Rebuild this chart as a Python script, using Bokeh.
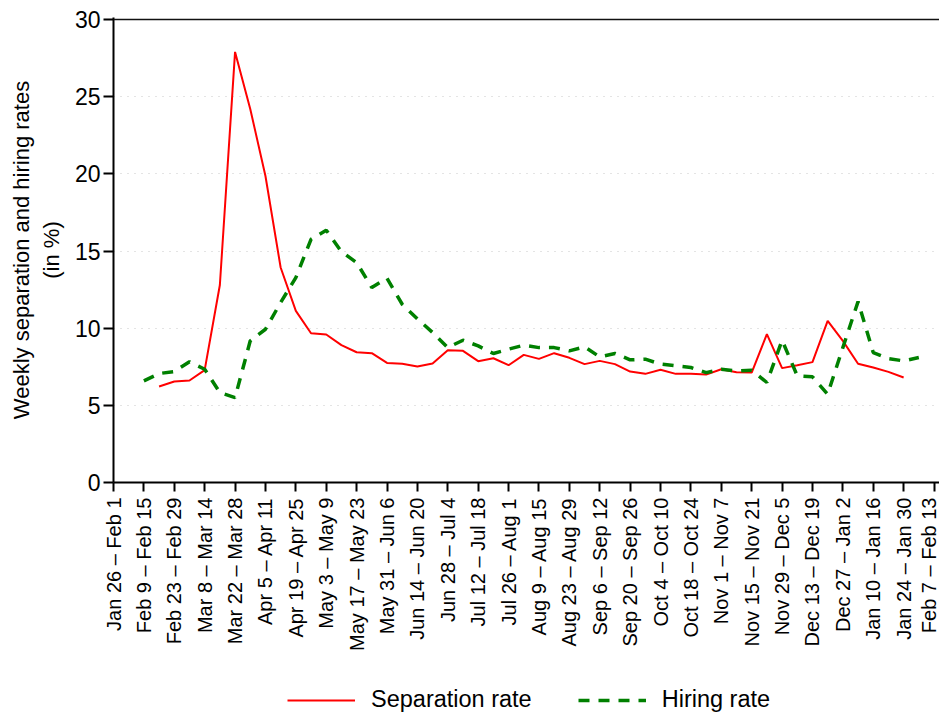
import math

from bokeh.embed import file_html
from bokeh.layouts import column
from bokeh.models import FixedTicker, Legend, LegendItem, Range1d, Span
from bokeh.plotting import figure
from bokeh.resources import INLINE

# Tick labels: one every two weeks, starting with the week of Jan 26
tick_labels = [
    "Jan 26 – Feb 1", "Feb 9 – Feb 15", "Feb 23 – Feb 29", "Mar 8 – Mar 14",
    "Mar 22 – Mar 28", "Apr 5 – Apr 11", "Apr 19 – Apr 25", "May 3 – May 9",
    "May 17 – May 23", "May 31 – Jun 6", "Jun 14 – Jun 20", "Jun 28 – Jul 4",
    "Jul 12 – Jul 18", "Jul 26 – Aug 1", "Aug 9 – Aug 15", "Aug 23 – Aug 29",
    "Sep 6 – Sep 12", "Sep 20 – Sep 26", "Oct 4 – Oct 10", "Oct 18 – Oct 24",
    "Nov 1 – Nov 7", "Nov 15 – Nov 21", "Nov 29 – Dec 5", "Dec 13 – Dec 19",
    "Dec 27 – Jan 2", "Jan 10 – Jan 16", "Jan 24 – Jan 30", "Feb 7 – Feb 13",
]
tick_weeks = [2 * i for i in range(len(tick_labels))]

# Weekly separation rate (%), first value is week 3 (Feb 16 – Feb 22)
separation_start = 3
separation_rate = [
    6.22, 6.54, 6.61, 7.28, 12.8, 27.9, 24.2, 19.86, 13.93, 11.12,
    9.67, 9.59, 8.9, 8.44, 8.38, 7.75, 7.69, 7.52, 7.71, 8.57,
    8.53, 7.86, 8.05, 7.6, 8.27, 8.01, 8.38, 8.08, 7.67, 7.88,
    7.67, 7.19, 7.04, 7.3, 7.04, 7.04, 6.99, 7.34, 7.15, 7.12,
    9.61, 7.41, 7.6, 7.8, 10.47, 9.18, 7.69, 7.45, 7.17, 6.8,
]

# Weekly hiring rate (%), first value is week 2 (Feb 9 – Feb 15)
hiring_start = 2
hiring_rate = [
    6.59, 7.06, 7.19, 7.82, 7.34, 5.83, 5.5, 9.18, 9.93, 11.66,
    13.28, 15.76, 16.35, 14.96, 14.25, 12.63, 13.24, 11.55, 10.6, 9.72,
    8.74, 9.22, 8.85, 8.36, 8.64, 8.9, 8.74, 8.74, 8.53, 8.79,
    8.14, 8.36, 7.95, 7.99, 7.67, 7.56, 7.45, 7.12, 7.34, 7.23,
    7.28, 6.48, 9.22, 6.91, 6.85, 5.72, 8.74, 11.72, 8.42, 8.03,
    7.88, 8.1,
]

y_ticks = [0, 5, 10, 15, 20, 25, 30]

FONT = "Liberation Sans"
SEP_STYLE = dict(line_color="#ff0000", line_width=2)
HIR_STYLE = dict(line_color="#008000", line_width=3.5, line_dash="11 9")

sep_x = [separation_start + i for i in range(len(separation_rate))]
hir_x = [hiring_start + i for i in range(len(hiring_rate))]

# main chart; a little headroom above 30 keeps the top rule unclipped
p = figure(
    frame_width=826, frame_height=465,
    output_backend="svg", toolbar_location=None,
    x_range=Range1d(0, 54.36), y_range=Range1d(0, 30.13),
    min_border_left=113, min_border_right=0,
    min_border_top=17, min_border_bottom=198,
)
p.outline_line_color = None
p.background_fill_color = "white"
p.border_fill_color = "white"

p.line(sep_x, separation_rate, **SEP_STYLE)
p.line(hir_x, hiring_rate, **HIR_STYLE)

# top rule at 30
p.add_layout(Span(location=30, dimension="width", line_color="#111111",
                  line_width=1.6))

# x axis
p.xaxis.ticker = FixedTicker(ticks=tick_weeks)
p.xaxis.major_label_overrides = {w: lab for w, lab in zip(tick_weeks, tick_labels)}
p.xaxis.major_label_orientation = math.pi / 2
p.xaxis.major_label_text_font = FONT
p.xaxis.major_label_text_font_size = "20px"
p.xaxis.major_label_text_color = "black"
p.xaxis.major_label_standoff = 6
p.xaxis.minor_tick_line_color = None
p.xaxis.major_tick_in = 0
p.xaxis.major_tick_out = 9
p.xaxis.major_tick_line_width = 2
p.xaxis.axis_line_width = 2
p.xaxis.axis_line_color = "black"
p.xaxis.major_tick_line_color = "black"

# y axis
p.yaxis.ticker = FixedTicker(ticks=y_ticks)
p.yaxis.major_label_text_font = FONT
p.yaxis.major_label_text_font_size = "23px"
p.yaxis.major_label_text_color = "black"
p.yaxis.major_label_standoff = 3
p.yaxis.minor_tick_line_color = None
p.yaxis.major_tick_in = 0
p.yaxis.major_tick_out = 10
p.yaxis.major_tick_line_width = 2
p.yaxis.axis_line_width = 2
p.yaxis.axis_line_color = "black"
p.yaxis.major_tick_line_color = "black"
p.yaxis.axis_label = "Weekly separation and hiring rates\n(in %)"
p.yaxis.axis_label_text_font = FONT
p.yaxis.axis_label_text_font_size = "22px"
p.yaxis.axis_label_text_font_style = "normal"
p.yaxis.axis_label_text_color = "black"
p.yaxis.axis_label_standoff = 8

# grid
p.xgrid.visible = False
p.ygrid.ticker = FixedTicker(ticks=[5, 10, 15, 20, 25])
p.ygrid.grid_line_color = "#c8c8c8"
p.ygrid.grid_line_dash = "1 6"
p.ygrid.grid_line_width = 1

# legend strip under the chart; its view window lies outside the data,
# so only the legend keys of these renderers are visible
leg = figure(
    width=939, height=35,
    output_backend="svg", toolbar_location=None,
    x_axis_type=None, y_axis_type=None,
    x_range=Range1d(-2, -1), y_range=Range1d(-2, -1),
    min_border=0,
)
leg.outline_line_color = None
leg.grid.visible = False
key_sep = leg.line(sep_x, separation_rate, **SEP_STYLE)
key_hir = leg.line(hir_x, hiring_rate, **HIR_STYLE)

legend = Legend(
    items=[
        LegendItem(label="Separation rate", renderers=[key_sep]),
        LegendItem(label="Hiring rate", renderers=[key_hir]),
    ],
    orientation="horizontal",
    location=(174, 2),
    border_line_color=None,
    background_fill_alpha=0,
    glyph_width=68, glyph_height=24,
    label_standoff=16, spacing=46,
    label_text_font=FONT, label_text_font_size="23.5px",
    label_text_color="black",
    margin=0, padding=0,
)
leg.add_layout(legend, "center")

layout = column(p, leg, spacing=0)

with open("out.html", "w") as f:
    f.write(file_html(layout, INLINE))
